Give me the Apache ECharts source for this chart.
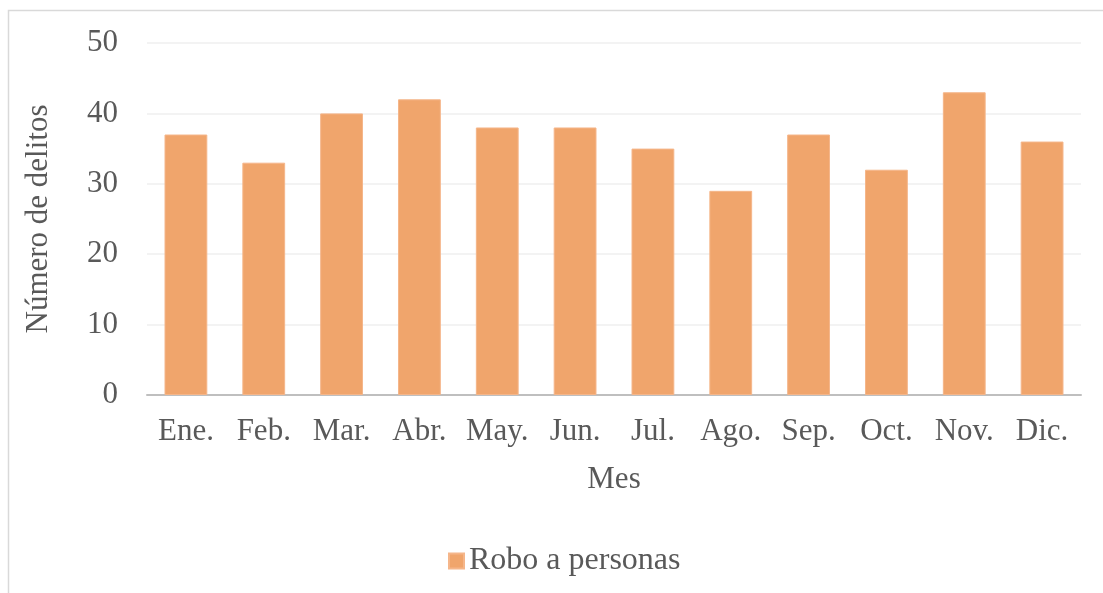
<!DOCTYPE html>
<html>
<head>
<meta charset="utf-8">
<script src="https://cdn.jsdelivr.net/npm/echarts@6/dist/echarts.min.js"></script>
<style>
  html, body { margin: 0; padding: 0; background: #fff; }
  #wrap { width: 1103px; height: 593px; }
</style>
</head>
<body>
<div id="wrap"></div>
<script>
// data
var months = ['Ene.', 'Feb.', 'Mar.', 'Abr.', 'May.', 'Jun.', 'Jul.', 'Ago.', 'Sep.', 'Oct.', 'Nov.', 'Dic.'];
var robos = [37, 33, 40, 42, 38, 38, 35, 29, 37, 32, 43, 36];
var seriesName = 'Robo a personas';

var font = '"Liberation Serif", "Times New Roman", serif';
var txt = '#595959';
var fs = 31;

var myChart = echarts.init(document.getElementById('wrap'));
var option = {
    animation: false,
    textStyle: { fontFamily: font },
    graphic: [{
        type: 'rect',
        shape: { x: 8.5, y: 10.5, width: 1200, height: 700 },
        style: { fill: 'none', stroke: '#d9d9d9', lineWidth: 1.5 },
        silent: true
    }],
    grid: { left: 147, right: 22, top: 43, bottom: 198 },
    legend: {
        left: 443,
        top: 540,
        icon: 'rect',
        itemWidth: 15,
        itemHeight: 15,
        itemGap: 8,
        data: [seriesName],
        textStyle: { fontFamily: font, fontSize: 32, color: txt, padding: [0, 0, 0, 0] }
    },
    xAxis: {
        type: 'category',
        data: months,
        name: 'Mes',
        nameLocation: 'middle',
        nameGap: 69,
        nameTextStyle: { fontFamily: font, fontSize: fs, color: txt },
        axisLine: { lineStyle: { color: '#bfbfbf', width: 2 } },
        axisTick: { show: false },
        axisLabel: { fontFamily: font, fontSize: fs, color: txt, margin: 21, interval: 0 }
    },
    yAxis: {
        type: 'value',
        min: 0,
        max: 50,
        interval: 10,
        name: 'Número de delitos',
        nameLocation: 'middle',
        nameGap: 93,
        nameTextStyle: { fontFamily: font, fontSize: fs, color: txt },
        axisLine: { show: false },
        axisTick: { show: false },
        axisLabel: { fontFamily: font, fontSize: fs, color: txt, margin: 29 },
        splitLine: { lineStyle: { color: '#efefef', width: 1.5 } }
    },
    series: [{
        name: seriesName,
        type: 'bar',
        data: robos,
        barWidth: '55%',
        itemStyle: { color: '#f0a56c', borderColor: '#f5b68a', borderWidth: 1 }
    }]
};
myChart.setOption(option);
</script>
</body>
</html>
